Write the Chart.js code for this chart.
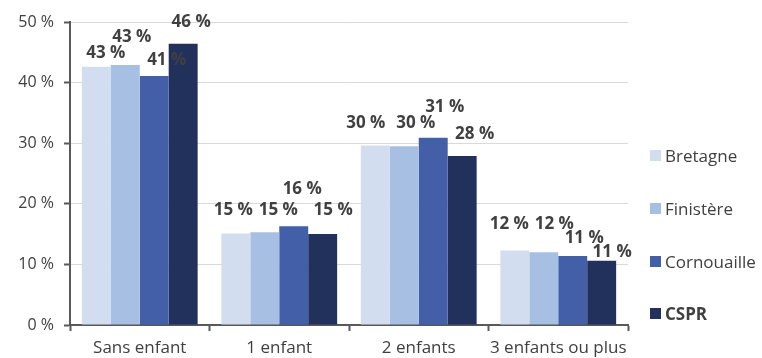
<!DOCTYPE html>
<html>
<head>
<meta charset="utf-8">
<script src="https://cdn.jsdelivr.net/npm/chart.js@4/dist/chart.umd.min.js"></script>
<style>
  html, body { margin: 0; padding: 0; background: #fff; }
  #wrap { position: relative; width: 762px; height: 358px; }
  #legend { position: absolute; left: 650px; top: 0; font-family: "Open Sans", sans-serif; font-size: 17px; color: #404040; }
  .item { position: absolute; left: 0; white-space: nowrap; display: flex; align-items: center; }
  .box { width: 11px; height: 11px; margin-right: 4px; }
</style>
</head>
<body>
<div id="wrap">
  <canvas id="chart" width="762" height="358"></canvas>
  <div id="legend"></div>
</div>
<script>
const categories = ["Sans enfant", "1 enfant", "2 enfants", "3 enfants ou plus"];
const seriesNames = ["Bretagne", "Finistère", "Cornouaille", "CSPR"];
const bretagne = [42.6, 15.1, 29.6, 12.3];
const finistere = [42.9, 15.3, 29.5, 12.0];
const cornouaille = [41.1, 16.3, 30.9, 11.4];
const cspr = [46.4, 15.0, 27.9, 10.6];
const colors = ["#d3ddf0", "#a7bfe3", "#425fa8", "#22305c"];

// hand nudges for the value labels (px from bar centre / bar top), like the original
const labelNudge = [
  [[9.5, -14], [-2.5, -23], [-9.5, -22], [-5.5, -26]],
  [[6.5, -28], [13.5, -22], [11.5, -23], [10.5, -28]],
  [[12.5, -16], [8.5, -37], [11.5, -31], [11.5, -18]],
  [[8, -22], [10.5, -24], [12.5, -22], [10.5, -9]],
];

const values = [bretagne, finistere, cornouaille, cspr];
const font = "'Open Sans', sans-serif";

const valueLabels = {
  id: "valueLabels",
  afterDatasetsDraw(chart) {
    const ctx = chart.ctx;
    ctx.save();
    ctx.font = "bold 17px " + font;
    ctx.fillStyle = "#404040";
    ctx.textAlign = "center";
    ctx.textBaseline = "middle";
    chart.data.datasets.forEach((ds, i) => {
      chart.getDatasetMeta(i).data.forEach((bar, j) => {
        const n = labelNudge[i][j];
        ctx.fillText(Math.round(ds.data[j]) + " %", bar.x + n[0], bar.y + n[1]);
      });
    });
    ctx.restore();
  },
};

new Chart(document.getElementById("chart"), {
  type: "bar",
  data: {
    labels: categories,
    datasets: seriesNames.map((name, i) => ({
      label: name,
      data: values[i],
      backgroundColor: colors[i],
      borderWidth: 0,
      categoryPercentage: 0.83,
      barPercentage: 1,
    })),
  },
  options: {
    responsive: false,
    animation: false,
    layout: { padding: { top: 22, right: 134, left: 0, bottom: 0 } },
    plugins: { legend: { display: false }, tooltip: { enabled: false } },
    scales: {
      x: {
        grid: { drawOnChartArea: false, offset: true, tickColor: "#595959", tickLength: 6, tickWidth: 2 },
        border: { color: "#595959", width: 2 },
        ticks: {
          color: "#404040",
          font: { family: font, size: 17 },
          padding: 7,
          autoSkip: false,
          maxRotation: 0,
          minRotation: 0,
        },
        afterFit: (s) => { s.height = 33; },
      },
      y: {
        min: 0,
        max: 50,
        grid: { color: "#d9d9d9", lineWidth: 1, tickColor: "#595959", tickLength: 6, tickWidth: 2 },
        border: { color: "#595959", width: 2 },
        ticks: {
          stepSize: 10,
          color: "#404040",
          font: { family: font, size: 16 },
          padding: 10,
          callback: (v) => v + " %",
        },
        afterFit: (s) => { s.width = 70; },
      },
    },
  },
  plugins: [valueLabels],
});

// legend on the right, CSPR in bold
const legendTops = [155, 208, 261, 313];
const legend = document.getElementById("legend");
seriesNames.forEach((name, i) => {
  const el = document.createElement("div");
  el.className = "item";
  el.style.top = legendTops[i] - 11 + "px";
  el.style.height = "22px";
  if (name === "CSPR") el.style.fontWeight = "bold";
  el.innerHTML = '<span class="box" style="background:' + colors[i] + '"></span>' + name;
  legend.appendChild(el);
});
</script>
</body>
</html>
